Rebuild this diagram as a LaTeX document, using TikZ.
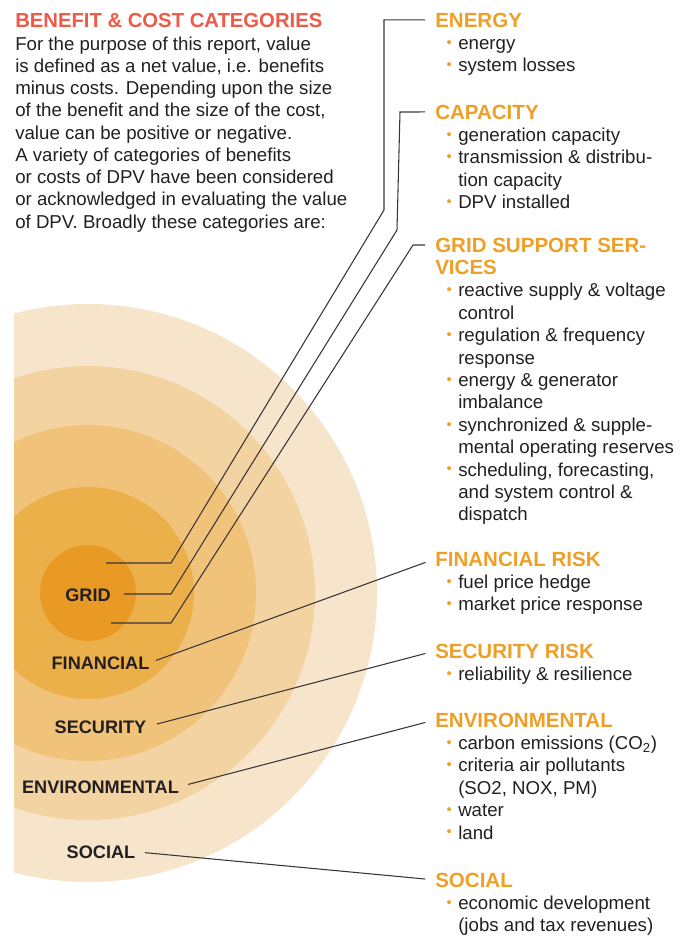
\documentclass[tikz,border=0pt]{standalone}
\usepackage{fontspec}
\setmainfont{Liberation Sans}

\definecolor{ink}{HTML}{231F20}
\definecolor{titlered}{HTML}{EE5A47}
\definecolor{catorange}{HTML}{EE9F27}
\definecolor{ringA}{HTML}{E99A25}
\definecolor{ringB}{HTML}{ECB04B}
\definecolor{ringC}{HTML}{F1C37A}
\definecolor{ringD}{HTML}{F4D3A3}
\definecolor{ringE}{HTML}{F7E5CB}

% small orange bullet hanging left of the item text
\newcommand{\bul}{\llap{\raisebox{1.6pt}{\textcolor{catorange}{\fontsize{11}{11}\selectfont\textbullet}}\hspace{4.8pt}}}

\begin{document}
\begin{tikzpicture}[x=0.75pt, y=-0.75pt,
  body/.style={anchor=base west, inner sep=0pt, text=ink, font=\fontsize{14}{16}\selectfont},
  head/.style={anchor=base west, inner sep=0pt, text=catorange, font=\bfseries\fontsize{15.4}{18}\selectfont},
  ring/.style={anchor=base, inner sep=0pt, text=ink, font=\bfseries\fontsize{13.6}{16}\selectfont},
  leader/.style={draw=ink!90, line width=0.8pt, shorten >=7.5pt}
]
\useasboundingbox (0,0) rectangle (679,936);

% rings, outermost first, cut off at the left margin
\begin{scope}
  \clip (14,0) rectangle (679,936);
  \foreach \r/\c in {289/ringE, 227/ringD, 168/ringC, 106/ringB, 48/ringA}
    \fill[\c] (88,593) circle (\r);
\end{scope}

\node[ring] (grid) at (88,601) {GRID};
\node[ring] (financial) at (100.5,669) {FINANCIAL};
\node[ring] (security) at (100.5,733) {SECURITY};
\node[ring] (environmental) at (100.5,793) {ENVIRONMENTAL};
\node[ring] (social) at (101,858) {SOCIAL};

\coordinate (grid-a) at (106,563);
\coordinate (grid-b) at (124,594);
\coordinate (grid-c) at (111,623);

% intro text
\node[anchor=base west, inner sep=0pt, text=titlered, font=\bfseries\fontsize{15.2}{18}\selectfont] (title) at (15,27) {BENEFIT \& COST CATEGORIES};
\foreach \t [count=\i] in {{For the purpose of this report, value}, {is defined as a net value, i.e. benefits}, {minus costs. Depending upon the size}, {of the benefit and the size of the cost,}, {value can be positive or negative.}, {A variety of categories of benefits}, {or costs of DPV have been considered}, {or acknowledged in evaluating the value}, {of DPV. Broadly these categories are:}}
  \node[body] (intro-\i) at (15,27.75+22.25*\i) {\t};

% categories
\node[head] (energy) at (435,27) {ENERGY};
\foreach \t [count=\i] in {\bul energy, \bul system losses}
  \node[body] (energy-\i) at (458,27+22.4*\i) {\t};

\node[head] (capacity) at (435,119) {CAPACITY};
\foreach \t [count=\i] in {\bul generation capacity, \bul transmission \& distribu-, tion capacity, \bul DPV installed}
  \node[body] (capacity-\i) at (458,119+22.4*\i) {\t};

\node[head] (gridsup) at (435,252) {GRID SUPPORT SER-};
\node[head] (gridsup-0) at (435,274.4) {VICES};
\foreach \t [count=\i] in {\bul reactive supply \& voltage, control, \bul regulation \& frequency, response, \bul energy \& generator, imbalance, \bul synchronized \& supple-, mental operating reserves, {\bul scheduling, forecasting,}, and system control \&, dispatch}
  \node[body] (gridsup-\i) at (458,274.4+22.4*\i) {\t};

\node[head] (finrisk) at (435,566) {FINANCIAL RISK};
\foreach \t [count=\i] in {\bul fuel price hedge, \bul market price response}
  \node[body] (finrisk-\i) at (458,566+22.4*\i) {\t};

\node[head] (secrisk) at (435,658) {SECURITY RISK};
\foreach \t [count=\i] in {\bul reliability \& resilience}
  \node[body] (secrisk-\i) at (458,658+22.4*\i) {\t};

\node[head] (environ) at (435,727) {ENVIRONMENTAL};
\foreach \t [count=\i] in {\bul carbon emissions (CO\textsubscript{2}), \bul criteria air pollutants, {(SO2, NOX, PM)}, \bul water, \bul land}
  \node[body] (environ-\i) at (458,727+22.4*\i) {\t};

\node[head] (soc) at (435,887) {SOCIAL};
\foreach \t [count=\i] in {\bul economic development, (jobs and tax revenues)}
  \node[body] (soc-\i) at (458,887+22.4*\i) {\t};

% leaders
\draw[leader] (grid-a) -- (171,563) -- (384,210) |- (energy.west);
\draw[leader] (grid-b) -- (171,594) -- (397,230) -- (400,112) -- (capacity.west);
\draw[leader] (grid-c) -- (171,623) -- (413,245) -- (gridsup.west);
\draw[leader, shorten <=5pt] (financial.east) -- (finrisk.west);
\draw[leader, shorten <=8pt] (security.east) -- (secrisk.west);
\draw[leader, shorten <=7pt] (environmental.east) -- (environ.west);
\draw[leader, shorten <=7pt] (social.east) -- (soc.west);
\end{tikzpicture}
\end{document}
